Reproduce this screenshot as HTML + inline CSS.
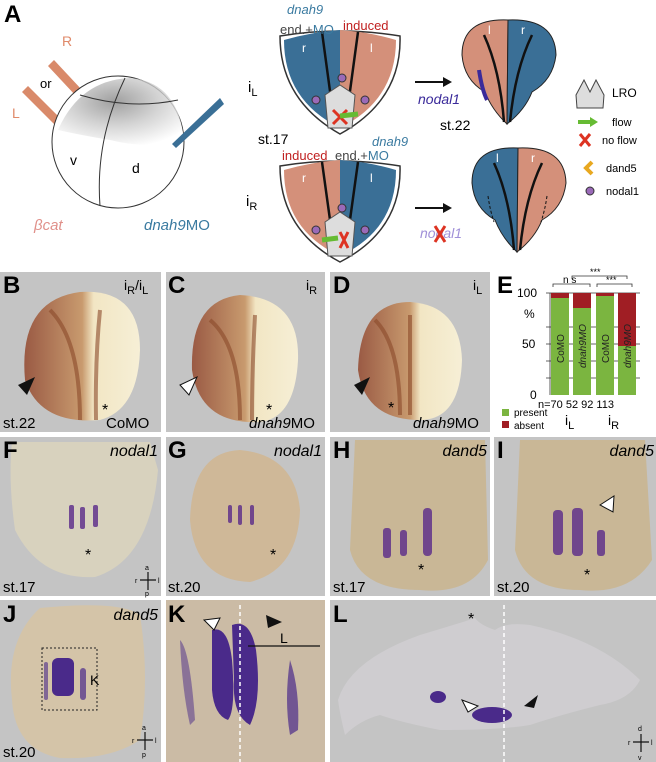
<!DOCTYPE html>
<html><head><meta charset="utf-8"><style>
body{margin:0;background:#fff}
svg{display:block;font-family:"Liberation Sans",sans-serif}
.b{font-weight:bold;font-size:24px}
.i{font-style:italic}
</style></head><body>
<svg width="656" height="762" viewBox="0 0 656 762" xmlns="http://www.w3.org/2000/svg">
<defs>
<radialGradient id="egg" cx="0.45" cy="0.35" r="0.7"><stop offset="0" stop-color="#888"/><stop offset="0.5" stop-color="#c8c8c8"/><stop offset="1" stop-color="#fff"/></radialGradient>
<linearGradient id="embR" x1="0" x2="1"><stop offset="0" stop-color="#9a5a44"/><stop offset="0.5" stop-color="#c89a6e"/><stop offset="0.6" stop-color="#f2e6c4"/><stop offset="1" stop-color="#f6efd6"/></linearGradient>
</defs>

<!-- Panel A -->
<text x="4" y="22" class="b">A</text>
<polygon points="22,92 28,86 60,118 54,124" fill="#d98a6a"/>
<polygon points="48,66 54,60 82,90 76,96" fill="#d98a6a"/>
<text x="62" y="46" font-size="14" fill="#e08a6a">R</text>
<text x="40" y="88" font-size="13">or</text>
<text x="12" y="118" font-size="14" fill="#e08a6a">L</text>
<circle cx="118" cy="142" r="66" fill="#fff" stroke="#333"/>
<path d="M58,130 Q80,80 130,78 Q178,82 184,140 Q150,150 110,140 Q80,135 58,130Z" fill="url(#egg)" opacity="0.8"/>
<path d="M125,78 Q95,140 100,206 M80,95 Q130,110 178,100" stroke="#333" fill="none"/>
<polygon points="220,98 224,104 176,148 172,144" fill="#3a6f96"/>
<text x="70" y="165" font-size="14">v</text>
<text x="132" y="173" font-size="14">d</text>
<text x="34" y="230" font-size="15" class="i" fill="#e0908a">βcat</text>
<text x="144" y="230" font-size="15" fill="#3a7aa0"><tspan class="i">dnah9</tspan>MO</text>

<!-- schematic iL -->
<g>
<path d="M280,36 Q340,26 400,36 Q402,100 340,134 Q280,100 280,36Z" fill="#fff" stroke="#333" stroke-width="1.5"/>
<path d="M284,40 Q312,32 340,30 L340,128 Q284,100 284,40Z" fill="#3a6f96"/>
<path d="M340,30 Q370,32 396,40 Q396,100 340,128Z" fill="#d4907a"/>
<path d="M322,32 L335,128 M358,32 L345,128" stroke="#111" stroke-width="2.5"/>
<text x="302" y="52" font-size="12" fill="#fff">r</text><text x="370" y="52" font-size="12" fill="#fff">l</text>
<polygon points="325,95 340,85 355,95 352,128 328,128" fill="#ddd" stroke="#555"/>
<circle cx="342" cy="78" r="4" fill="#9a6ab8" stroke="#333"/><circle cx="316" cy="100" r="4" fill="#9a6ab8" stroke="#333"/><circle cx="365" cy="100" r="4" fill="#9a6ab8" stroke="#333"/>
<path d="M333,110 L347,124 M347,110 L333,124" stroke="#d32" stroke-width="3"/>
<path d="M340,116 L358,114" stroke="#6b3" stroke-width="5"/>
<text x="287" y="14" font-size="13" class="i" fill="#3a7aa0">dnah9</text>
<text x="280" y="34" font-size="13" fill="#444">end.+<tspan fill="#3a7aa0">MO</tspan></text>
<text x="343" y="30" font-size="13" fill="#c02020">induced</text>
<text x="248" y="92" font-size="15">i<tspan font-size="11" dy="4">L</tspan></text>
<text x="258" y="144" font-size="14">st.17</text>
</g>
<!-- schematic iR -->
<g>
<text x="282" y="160" font-size="13" fill="#c02020">induced</text>
<text x="335" y="160" font-size="13" fill="#444">end.+<tspan fill="#3a7aa0">MO</tspan></text>
<text x="372" y="146" font-size="13" class="i" fill="#3a7aa0">dnah9</text>
<path d="M280,166 Q340,156 400,166 Q402,230 340,262 Q280,230 280,166Z" fill="#fff" stroke="#333" stroke-width="1.5"/>
<path d="M284,170 Q312,162 340,160 L340,256 Q284,230 284,170Z" fill="#d4907a"/>
<path d="M340,160 Q370,162 396,170 Q396,230 340,256Z" fill="#3a6f96"/>
<path d="M322,162 L335,256 M358,162 L345,256" stroke="#111" stroke-width="2.5"/>
<text x="302" y="182" font-size="12" fill="#fff">r</text><text x="370" y="182" font-size="12" fill="#fff">l</text>
<polygon points="325,222 340,212 355,222 352,256 328,256" fill="#ddd" stroke="#555"/>
<circle cx="342" cy="208" r="4" fill="#9a6ab8" stroke="#333"/><circle cx="316" cy="230" r="4" fill="#9a6ab8" stroke="#333"/><circle cx="365" cy="230" r="4" fill="#9a6ab8" stroke="#333"/>
<path d="M340,232 L348,248 M348,232 L340,248" stroke="#d32" stroke-width="3"/>
<path d="M322,240 L338,238" stroke="#6b3" stroke-width="5"/>
<text x="246" y="206" font-size="15">i<tspan font-size="11" dy="4">R</tspan></text>
</g>
<!-- arrows -->
<path d="M415,82 L445,82" stroke="#111" stroke-width="2"/><polygon points="452,82 443,77 443,87" fill="#111"/>
<path d="M415,208 L445,208" stroke="#111" stroke-width="2"/><polygon points="452,208 443,203 443,213" fill="#111"/>
<text x="418" y="104" font-size="14" class="i" fill="#3a2a9a">nodal1</text>
<text x="440" y="130" font-size="14">st.22</text>
<text x="420" y="238" font-size="14" class="i" fill="#a090d8">nodal1</text>
<path d="M435,226 L445,242 M445,226 L435,242" stroke="#d32" stroke-width="3"/>
<!-- tadpole heads -->
<path d="M508,20 Q462,18 462,55 Q464,80 485,92 Q492,110 507,124Z" fill="#d4907a" stroke="#222"/>
<path d="M508,20 Q555,18 556,55 Q553,80 532,92 Q525,110 507,124Z" fill="#3a6f96" stroke="#222"/>
<path d="M484,35 Q500,70 504,122 M532,35 Q515,70 510,122" stroke="#111" stroke-width="2.5" fill="none"/>
<path d="M479,70 Q482,90 487,100" stroke="#3a2a9a" stroke-width="4" fill="none"/>
<text x="488" y="34" font-size="12" fill="#fff">l</text><text x="521" y="34" font-size="12" fill="#fff">r</text>
<path d="M518,148 Q472,146 472,183 Q474,208 495,220 Q502,238 517,252Z" fill="#3a6f96" stroke="#222"/>
<path d="M518,148 Q565,146 566,183 Q563,208 542,220 Q535,238 517,252Z" fill="#d4907a" stroke="#222"/>
<path d="M494,163 Q510,198 514,250 M542,163 Q525,198 520,250" stroke="#111" stroke-width="2.5" fill="none"/>
<path d="M488,196 Q490,210 494,222 M547,196 Q545,210 541,222" stroke="#111" stroke-dasharray="3,2" fill="none"/>
<text x="496" y="162" font-size="12" fill="#fff">l</text><text x="531" y="162" font-size="12" fill="#fff">r</text>
<!-- legend -->
<polygon points="576,95 584,80 590,92 596,80 604,95 603,108 577,108" fill="#ddd" stroke="#444"/>
<text x="612" y="97" font-size="12">LRO</text>
<path d="M578,122 L592,122" stroke="#6b3" stroke-width="4"/><polygon points="598,122 590,117 590,127" fill="#6b3"/>
<text x="612" y="126" font-size="11">flow</text>
<path d="M580,134 L590,146 M590,134 L580,146" stroke="#d32" stroke-width="3"/>
<text x="602" y="144" font-size="11">no flow</text>
<path d="M592,162 L586,168 L592,174" stroke="#e8a820" stroke-width="4" fill="none"/>
<text x="606" y="172" font-size="11">dand5</text>
<circle cx="590" cy="191" r="4" fill="#9a6ab8" stroke="#333"/>
<text x="606" y="195" font-size="11">nodal1</text>

<!-- Row 2 -->
<g>
<rect x="0" y="272" width="161" height="160" fill="#c4c4c4"/>
<rect x="166" y="272" width="159" height="160" fill="#c4c4c4"/>
<rect x="330" y="272" width="160" height="160" fill="#c4c4c4"/>
<path d="M80,292 Q140,288 140,350 Q138,410 100,420 Q40,425 25,380 Q18,300 80,292Z" fill="url(#embR)"/>
<path d="M240,295 Q300,298 298,360 Q295,418 260,422 Q200,425 192,370 Q190,300 240,295Z" fill="url(#embR)"/>
<path d="M410,302 Q460,305 462,360 Q460,420 420,420 Q365,420 358,370 Q360,302 410,302Z" fill="url(#embR)"/>
<path d="M50,310 Q80,340 80,420 M100,310 Q95,360 96,420" stroke="#8a4a2a" stroke-width="4" fill="none" opacity="0.6"/>
<path d="M210,320 Q240,345 240,420 M255,315 Q252,370 252,420" stroke="#8a4a2a" stroke-width="4" fill="none" opacity="0.6"/>
<path d="M375,320 Q400,345 400,415 M410,315 Q410,370 410,415" stroke="#8a4a2a" stroke-width="4" fill="none" opacity="0.6"/>
<text x="3" y="293" class="b">B</text><text x="168" y="293" class="b">C</text><text x="333" y="293" class="b">D</text>
<text x="124" y="290" font-size="14">i<tspan font-size="11" dy="4">R</tspan><tspan dy="-4">/i</tspan><tspan font-size="11" dy="4">L</tspan></text>
<text x="306" y="290" font-size="14">i<tspan font-size="11" dy="4">R</tspan></text>
<text x="473" y="290" font-size="14">i<tspan font-size="11" dy="4">L</tspan></text>
<polygon points="18,385 35,377 27,395" fill="#111"/>
<polygon points="180,385 197,377 189,395" fill="#fff" stroke="#111"/>
<polygon points="354,385 370,377 362,395" fill="#111"/>
<text x="102" y="415" font-size="16">*</text><text x="266" y="415" font-size="16">*</text><text x="388" y="413" font-size="16">*</text>
<text x="3" y="428" font-size="15">st.22</text>
<text x="106" y="428" font-size="15">CoMO</text>
<text x="249" y="428" font-size="15"><tspan class="i">dnah9</tspan>MO</text>
<text x="413" y="428" font-size="15"><tspan class="i">dnah9</tspan>MO</text>
</g>
<!-- E chart -->
<g>
<text x="497" y="293" class="b">E</text>
<text x="517" y="297" font-size="12">100</text><text x="522" y="348" font-size="12">50</text><text x="530" y="399" font-size="12">0</text>
<text x="524" y="318" font-size="12">%</text>
<path d="M550,293 L550,395 M546,293 L640,293 M546,327 L640,327 M546,361 L640,361 M546,344 L640,344 M546,378 L640,378" stroke="#333" stroke-width="0.8"/>
<rect x="551" y="293" width="18" height="102" fill="#a01e24"/><rect x="551" y="298" width="18" height="97" fill="#7bb540"/>
<rect x="573" y="293" width="18" height="102" fill="#a01e24"/><rect x="573" y="308" width="18" height="87" fill="#7bb540"/>
<rect x="596" y="293" width="18" height="102" fill="#a01e24"/><rect x="596" y="296" width="18" height="99" fill="#7bb540"/>
<rect x="618" y="293" width="18" height="102" fill="#a01e24"/><rect x="618" y="346" width="18" height="49" fill="#7bb540"/>
<g font-size="10" fill="#222">
<text transform="translate(564,363) rotate(-90)">CoMO</text>
<text transform="translate(586,368) rotate(-90)" class="i">dnah9MO</text>
<text transform="translate(609,363) rotate(-90)">CoMO</text>
<text transform="translate(631,368) rotate(-90)" class="i">dnah9MO</text>
</g>
<path d="M553,287 L553,284 L590,284 L590,287 M572,279 L572,276 L627,276 L627,279 M597,287 L597,284 L632,284 L632,287" stroke="#333" fill="none" stroke-width="0.8"/>
<text x="563" y="283" font-size="10">n s</text><text x="590" y="275" font-size="9">***</text><text x="606" y="283" font-size="9">***</text>
<text x="538" y="408" font-size="11">n=70  52   92  113</text>
<rect x="502" y="409" width="7" height="7" fill="#7bb540"/><text x="514" y="416" font-size="10">present</text>
<rect x="502" y="421" width="7" height="7" fill="#a01e24"/><text x="514" y="429" font-size="10">absent</text>
<text x="565" y="425" font-size="14">i<tspan font-size="11" dy="4">L</tspan></text>
<text x="608" y="425" font-size="14">i<tspan font-size="11" dy="4">R</tspan></text>
</g>

<!-- Row 3 -->
<g>
<rect x="0" y="437" width="161" height="159" fill="#c4c4c4"/>
<rect x="166" y="437" width="159" height="159" fill="#c4c4c4"/>
<rect x="330" y="437" width="160" height="159" fill="#c4c4c4"/>
<rect x="494" y="437" width="162" height="159" fill="#c4c4c4"/>
<path d="M12,442 L150,442 L158,470 Q150,560 95,577 Q40,580 15,530 Q8,480 12,442Z" fill="#d8d2be"/>
<path d="M240,450 Q295,455 300,510 Q298,570 250,582 Q195,580 190,520 Q192,452 240,450Z" fill="#cfb898"/>
<path d="M355,440 L485,440 L488,560 Q470,595 420,590 Q360,590 350,550Z" fill="#c9b796"/>
<path d="M520,440 L645,440 L652,560 Q630,595 580,590 Q525,590 515,550Z" fill="#c9b796"/>
<g fill="#5a2a8a" opacity="0.8">
<rect x="69" y="505" width="5" height="24" rx="2"/><rect x="80" y="507" width="5" height="22" rx="2"/><rect x="93" y="505" width="5" height="22" rx="2"/>
<rect x="228" y="505" width="4" height="18" rx="2"/><rect x="238" y="505" width="4" height="20" rx="2"/><rect x="250" y="505" width="4" height="20" rx="2"/>
<rect x="383" y="528" width="8" height="30" rx="3"/><rect x="400" y="530" width="7" height="26" rx="3"/><rect x="423" y="508" width="9" height="48" rx="4"/>
<rect x="553" y="510" width="10" height="45" rx="4"/><rect x="572" y="508" width="11" height="48" rx="4"/><rect x="597" y="530" width="8" height="26" rx="3"/>
</g>
<text x="3" y="458" class="b">F</text><text x="168" y="458" class="b">G</text><text x="333" y="458" class="b">H</text><text x="497" y="458" class="b">I</text>
<g font-size="16" class="i" text-anchor="end"><text x="158" y="456">nodal1</text><text x="322" y="456">nodal1</text><text x="487" y="456">dand5</text><text x="654" y="456">dand5</text></g>
<text x="85" y="560" font-size="16">*</text><text x="270" y="560" font-size="16">*</text><text x="418" y="575" font-size="16">*</text><text x="584" y="580" font-size="16">*</text>
<polygon points="600,505 614,496 613,512" fill="#fff" stroke="#111"/>
<g font-size="15"><text x="3" y="592">st.17</text><text x="168" y="592">st.20</text><text x="333" y="592">st.17</text><text x="497" y="592">st.20</text></g>
<g stroke="#111" stroke-width="1.2"><path d="M140,580 L156,580 M148,572 L148,590"/></g>
<g font-size="7"><text x="145" y="570">a</text><text x="135" y="583">r</text><text x="158" y="583">l</text><text x="145" y="596">p</text></g>
</g>

<!-- Row 4 -->
<g>
<rect x="0" y="600" width="161" height="162" fill="#c4c4c4"/>
<rect x="166" y="600" width="159" height="162" fill="#cbbba5"/>
<rect x="330" y="600" width="326" height="162" fill="#c4c4c4"/>
<path d="M40,608 Q120,600 140,615 Q150,680 140,740 Q110,760 60,758 Q15,750 12,700 Q5,640 40,608Z" fill="#d4c4a8"/>
<rect x="42" y="648" width="55" height="62" fill="none" stroke="#222" stroke-dasharray="2,2"/>
<g fill="#4a2a8a"><rect x="52" y="658" width="22" height="38" rx="6"/><rect x="44" y="662" width="4" height="38" rx="2" opacity="0.6"/><rect x="80" y="668" width="6" height="32" rx="3" opacity="0.7"/></g>
<text x="90" y="685" font-size="14">K</text>
<text x="3" y="622" class="b">J</text><text x="158" y="620" font-size="16" class="i" text-anchor="end">dand5</text>
<text x="3" y="757" font-size="15">st.20</text>
<g stroke="#111" stroke-width="1.2"><path d="M137,740 L153,740 M145,732 L145,750"/></g>
<g font-size="7"><text x="142" y="730">a</text><text x="132" y="743">r</text><text x="155" y="743">l</text><text x="142" y="757">p</text></g>

<g fill="#4a2a8a"><path d="M212,630 Q228,625 232,660 Q236,710 228,720 Q214,715 212,690Z"/><path d="M232,625 Q250,618 256,650 Q262,700 250,725 Q232,715 234,680Z"/>
<path d="M180,640 Q190,650 195,720 L190,725 Q182,690 180,640Z" opacity="0.5"/><path d="M290,660 Q300,690 298,730 L290,735 Q284,700 290,660Z" opacity="0.7"/></g>
<path d="M240,605 L240,762" stroke="#fff" stroke-width="1.5" stroke-dasharray="4,3"/>
<path d="M248,646 L320,646" stroke="#111" stroke-width="1.2"/><text x="280" y="643" font-size="14">L</text>
<polygon points="204,620 220,618 214,630" fill="#fff" stroke="#111"/>
<polygon points="266,615 282,622 268,628" fill="#111"/>
<text x="168" y="622" class="b">K</text>

<path d="M338,700 Q350,660 420,635 Q470,620 475,618 Q480,625 495,630 Q505,622 530,625 Q600,640 640,680 Q630,700 600,705 Q560,715 530,725 Q500,730 440,730 Q400,722 380,715 Q360,720 345,735 Q340,715 338,700Z" fill="#cfcdd0"/>
<ellipse cx="438" cy="697" rx="8" ry="6" fill="#4a2a8a"/>
<ellipse cx="492" cy="715" rx="20" ry="8" fill="#4a2a8a"/>
<path d="M504,605 L504,762" stroke="#fff" stroke-width="1.5" stroke-dasharray="4,3"/>
<text x="468" y="624" font-size="16">*</text>
<polygon points="462,700 478,706 468,712" fill="#fff" stroke="#111"/>
<polygon points="538,695 524,706 534,708" fill="#111"/>
<text x="333" y="622" class="b">L</text>
<g stroke="#111" stroke-width="1.2"><path d="M633,742 L649,742 M641,734 L641,752"/></g>
<g font-size="7"><text x="638" y="731">d</text><text x="628" y="745">r</text><text x="651" y="745">l</text><text x="638" y="760">v</text></g>
</g>
</svg>
</body></html>
